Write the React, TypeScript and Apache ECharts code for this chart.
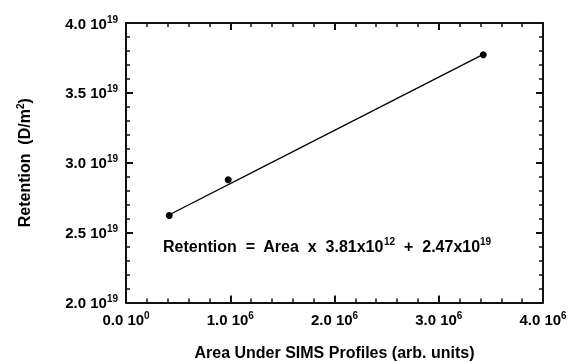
import React, { useEffect, useRef } from "react";
import * as echarts from "echarts";

// Data
const areaValues = [0.415e6, 0.981e6, 3.427e6];
const retentionValues = [2.622e19, 2.878e19, 3.773e19];
// Fit line end points (Retention = Area x 3.81e12 + 2.47e19)
const fitArea = [0.415e6, 3.427e6];
const fitRetention = [2.628e19, 3.776e19];

const xTickMantissa = ["0.0", "1.0", "2.0", "3.0", "4.0"];
const xTickExponent = ["0", "6", "6", "6", "6"];
const yTickMantissa = ["2.0", "2.5", "3.0", "3.5", "4.0"];
const yTickExponent = ["19", "19", "19", "19", "19"];

const xTitle = "Area Under SIMS Profiles (arb. units)";
const yTitle = "{b|Retention  (D/m}{s|2}{b|)}";
const fitText = "{b|Retention  =  Area  x  3.81x10}{s|12}{b|  +  2.47x10}{s|19}";

export default function App() {
  const ref = useRef<HTMLDivElement>(null);

  useEffect(() => {
    if (!ref.current) return;
    const chart = echarts.init(ref.current, undefined, { renderer: "svg" });

    const xMin = 0, xMax = 4e6, xInt = 1e6;
    const yMin = 2e19, yMax = 4e19, yInt = 5e18;

    const xLabel = (v: number) => {
      const i = Math.round((v - xMin) / xInt);
      return `{b|${xTickMantissa[i]} 10}{s|${xTickExponent[i]}}`;
    };
    const yLabel = (v: number) => {
      const i = Math.round((v - yMin) / yInt);
      return `{b|${yTickMantissa[i]} 10}{s|${yTickExponent[i]}}`;
    };

    const rich = (size: number) => ({
      b: { fontSize: size, fontWeight: "bold", color: "#000", lineHeight: size + 3 },
      s: { fontSize: 10, fontWeight: "bold", color: "#000", lineHeight: 10, verticalAlign: "top" },
    });

    const mk = (extra: any) => ({
      type: "value",
      axisLine: { show: true, onZero: false, lineStyle: { color: "#111", width: 2 } },
      axisTick: { show: true, inside: true, length: 7, lineStyle: { color: "#111", width: 2 } },
      minorTick: { show: true, splitNumber: 5, length: 4, lineStyle: { color: "#111", width: 1.5 } },
      splitLine: { show: false },
      ...extra,
    });

    const label = (formatter: any) => ({
      show: true, margin: 8, formatter,
      color: "#000", fontWeight: "bold", fontSize: 15,
      rich: rich(15),
    });

    chart.setOption({
      animation: false,
      textStyle: { fontFamily: "Liberation Sans" },
      grid: {
        left: 126, right: 28, top: 23, bottom: 59.5,
        containLabel: false, outerBoundsMode: "none",
      },
      title: [
        {
          text: fitText, left: 163, top: 236.5, padding: 0,
          textStyle: { fontWeight: "bold", fontSize: 16, color: "#000", rich: rich(16) },
        },
      ],
      xAxis: [
        mk({
          position: "bottom", min: xMin, max: xMax, interval: xInt, axisLabel: label(xLabel),
          name: xTitle, nameLocation: "middle", nameGap: 42,
          nameTextStyle: { fontSize: 16, fontWeight: "bold", color: "#000" },
        }),
        mk({ position: "top", min: xMin, max: xMax, interval: xInt, axisLabel: { show: false } }),
      ],
      yAxis: [
        mk({
          position: "left", min: yMin, max: yMax, interval: yInt, axisLabel: label(yLabel),
          name: yTitle, nameLocation: "middle", nameGap: 92, nameRotate: 90,
          nameTextStyle: { rich: rich(16) },
        }),
        mk({ position: "right", min: yMin, max: yMax, interval: yInt, axisLabel: { show: false } }),
      ],
      series: [
        {
          type: "line", data: fitArea.map((a, i) => [a, fitRetention[i]]),
          showSymbol: false, symbol: "none",
          lineStyle: { color: "#000", width: 1.3 },
        },
        {
          type: "scatter", data: areaValues.map((a, i) => [a, retentionValues[i]]),
          symbol: "circle", symbolSize: 7, itemStyle: { color: "#000", opacity: 1 },
        },
      ],
    });

    return () => chart.dispose();
  }, []);

  return <div ref={ref} style={{ position: "fixed", left: 0, top: 0, width: 571, height: 362 }} />;
}
